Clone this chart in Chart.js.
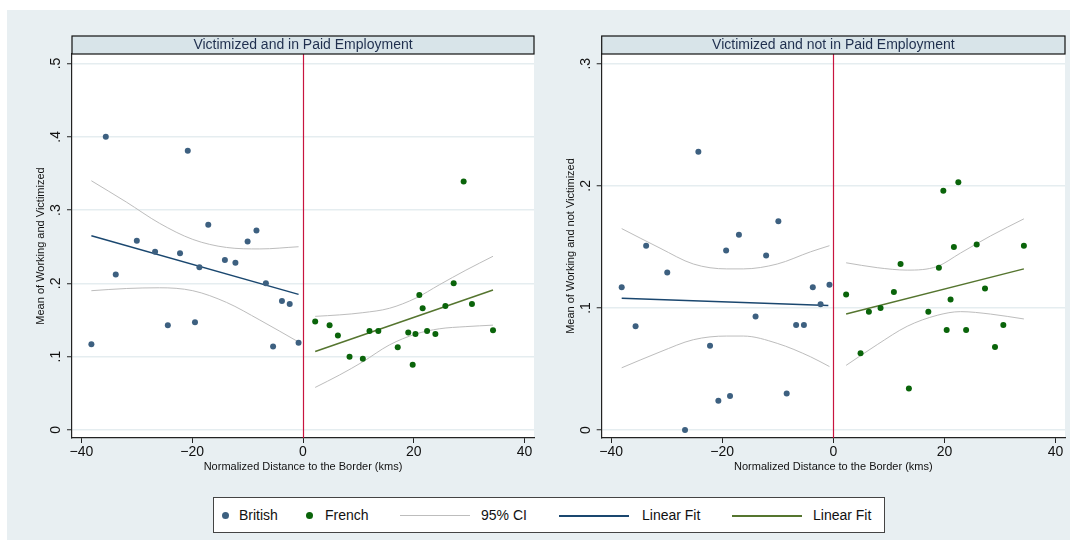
<!DOCTYPE html>
<html><head><meta charset="utf-8">
<script src="https://cdn.jsdelivr.net/npm/chart.js@4/dist/chart.umd.min.js"></script>
<style>
html,body{margin:0;padding:0;background:#fff;}
#bg{position:absolute;left:7px;top:10px;width:1063px;height:530px;background:#E8EFF2;}
canvas{position:absolute;top:0;}
#c1{left:0;} #c2{left:530px;}
#legend{position:absolute;left:213px;top:497px;width:672px;height:36px;background:#fff;border:1px solid #444;box-sizing:border-box;font-family:'Liberation Sans',Arial,sans-serif;font-size:14px;color:#111;}
#legend .it{position:absolute;top:0;line-height:34px;white-space:nowrap;}
#legend .dot{position:absolute;top:14px;width:7px;height:7px;border-radius:50%;}
#legend .ln{position:absolute;top:17px;height:0;}
</style></head>
<body>
<div id="bg"></div>
<canvas id="c1" width="540" height="480"></canvas>
<canvas id="c2" width="540" height="480"></canvas>
<div id="legend">
  <div class="dot" style="left:8px;background:#3D6080"></div><div class="it" style="left:25px">British</div>
  <div class="dot" style="left:92px;background:#0A640A"></div><div class="it" style="left:111px">French</div>
  <div class="ln" style="left:186px;width:70px;border-top:1px solid #BDBDBD"></div><div class="it" style="left:267px">95% CI</div>
  <div class="ln" style="left:345px;width:70px;border-top:2px solid #1A476F"></div><div class="it" style="left:428px">Linear Fit</div>
  <div class="ln" style="left:518px;width:70px;border-top:2px solid #55752F"></div><div class="it" style="left:599px">Linear Fit</div>
</div>
<script>
// ---- tick definitions ----
const X_TICKS = [-40, -20, 0, 20, 40];
const X_TICK_LABELS = ['\u221240', '\u221220', '0', '20', '40'];
const L_Y_TICKS = [0, 0.1, 0.2, 0.3, 0.4, 0.5];
const L_Y_TICK_LABELS = ['0', '.1', '.2', '.3', '.4', '.5'];
const R_Y_TICKS = [0, 0.1, 0.2, 0.3];
const R_Y_TICK_LABELS = ['0', '.1', '.2', '.3'];
const BORDER_X = 0;

// ---- left panel: Victimized and in Paid Employment ----
const L_BR_X = [-38.2,-35.6,-33.8,-30.0,-26.7,-24.4,-22.2,-20.8,-19.5,-18.7,-17.1,-14.1,-12.2,-10.0,-8.4,-6.7,-5.4,-3.8,-2.4,-0.8];
const L_BR_Y = [0.117,0.400,0.212,0.258,0.243,0.143,0.241,0.381,0.147,0.222,0.280,0.232,0.228,0.257,0.272,0.200,0.114,0.176,0.172,0.119];
const L_FR_X = [2.2,4.8,6.3,8.4,10.8,12.0,13.6,17.1,19.0,19.8,20.3,21.0,21.6,22.4,23.9,25.7,27.2,29.0,30.5,34.3];
const L_FR_Y = [0.148,0.143,0.129,0.100,0.097,0.135,0.135,0.113,0.133,0.089,0.131,0.184,0.166,0.135,0.131,0.169,0.200,0.339,0.172,0.136];
const L_BR_FIT_X = [-38.2, -0.8];
const L_BR_FIT_Y = [0.265, 0.185];
const L_FR_FIT_X = [2.2, 34.3];
const L_FR_FIT_Y = [0.107, 0.191];
const L_BR_CI_X = [-38.2,-31.9,-25.9,-19.9,-13.8,-7.8,-0.8];
const L_BR_CI_HI = [0.340,0.311,0.282,0.260,0.249,0.247,0.250];
const L_BR_CI_LO = [0.190,0.193,0.194,0.190,0.174,0.150,0.120];
const L_FR_CI_X = [2.2,6.6,10.8,15.6,20.4,24.6,29.4,34.3];
const L_FR_CI_HI = [0.155,0.157,0.160,0.166,0.180,0.198,0.218,0.237];
const L_FR_CI_LO = [0.058,0.075,0.093,0.116,0.131,0.138,0.141,0.143];

// ---- right panel: Victimized and not in Paid Employment ----
const R_BR_X = [-38.1,-35.6,-33.7,-29.9,-26.7,-24.3,-22.2,-20.7,-19.3,-18.6,-17.0,-14.0,-12.1,-9.9,-8.4,-6.7,-5.3,-3.7,-2.3,-0.7];
const R_BR_Y = [0.117,0.085,0.151,0.129,0.000,0.228,0.069,0.024,0.147,0.028,0.160,0.093,0.143,0.171,0.030,0.086,0.086,0.117,0.103,0.119];
const R_FR_X = [2.3,4.9,6.4,8.5,10.9,12.1,13.6,17.1,19.0,19.8,20.4,21.1,21.7,22.5,23.9,25.8,27.3,29.1,30.6,34.3];
const R_FR_Y = [0.111,0.063,0.097,0.100,0.113,0.136,0.034,0.097,0.133,0.196,0.082,0.107,0.150,0.203,0.082,0.152,0.116,0.068,0.086,0.151];
const R_BR_FIT_X = [-38.1, -0.9];
const R_BR_FIT_Y = [0.108, 0.102];
const R_FR_FIT_X = [2.3, 34.3];
const R_FR_FIT_Y = [0.095, 0.132];
const R_BR_CI_X = [-38.1,-31.2,-25.2,-19.2,-16.2,-10.1,-4.1,-0.7];
const R_BR_CI_HI = [0.165,0.149,0.136,0.132,0.132,0.136,0.146,0.151];
const R_BR_CI_LO = [0.051,0.064,0.074,0.077,0.077,0.071,0.060,0.052];
const R_FR_CI_X = [2.3,7.9,13.3,18.7,22.9,28.3,34.3];
const R_FR_CI_HI = [0.137,0.133,0.131,0.134,0.145,0.159,0.173];
const R_FR_CI_LO = [0.053,0.070,0.085,0.094,0.097,0.095,0.091];

const FONT = "'Liberation Sans', Arial, Helvetica, sans-serif";
const C_BR = '#3D6080', C_FR = '#0A640A', C_BRFIT = '#1A476F', C_FRFIT = '#55752F', C_CI = '#BDBDBD';

const pts = (xs, ys) => xs.map((x, i) => ({x: x, y: ys[i]}));

function ciLine(xs, ys) {
  return {type: 'line', data: pts(xs, ys), borderColor: C_CI, borderWidth: 1, pointRadius: 0,
          cubicInterpolationMode: 'monotone', fill: false, order: 3};
}
function fitLine(xs, ys, c) {
  return {type: 'line', data: pts(xs, ys), borderColor: c, borderWidth: 1.5, pointRadius: 0, fill: false, order: 2};
}
function scat(xs, ys, c) {
  return {type: 'scatter', data: pts(xs, ys), backgroundColor: c, borderWidth: 0, pointRadius: 3, pointHoverRadius: 3, order: 1};
}

const decor = {
  id: 'decor',
  beforeDraw(chart, args, o) {
    const {ctx, chartArea: a} = chart;
    ctx.save(); ctx.fillStyle = '#fff';
    ctx.fillRect(a.left, a.top, a.right - a.left, a.bottom - a.top);
    ctx.restore();
  },
  beforeDatasetsDraw(chart) {
    const {ctx, chartArea: a, scales} = chart;
    const px = Math.round(scales.x.getPixelForValue(BORDER_X)) + 0.5;
    ctx.save(); ctx.strokeStyle = '#C8143F'; ctx.lineWidth = 1.2;
    ctx.beginPath(); ctx.moveTo(px, a.top); ctx.lineTo(px, a.bottom); ctx.stroke();
    ctx.restore();
  },
  afterDraw(chart, args, o) {
    const {ctx, chartArea: a, scales} = chart;
    // strip title
    ctx.save();
    ctx.fillStyle = '#D8E4E9';
    ctx.fillRect(a.left, a.top - 18, a.right - a.left, 18);
    ctx.strokeStyle = '#111'; ctx.lineWidth = 1.2;
    ctx.strokeRect(a.left, a.top - 18, a.right - a.left, 18);
    ctx.fillStyle = '#1F2F4E'; ctx.font = '14px ' + FONT;
    ctx.textAlign = 'center'; ctx.textBaseline = 'middle';
    ctx.fillText(o.title, (a.left + a.right) / 2, a.top - 8.5);
    // rotated y tick labels
    const ys = scales.y;
    ctx.fillStyle = '#111'; ctx.font = '14px ' + FONT;
    ys.ticks.forEach((t, i) => {
      const py = ys.getPixelForValue(t.value);
      ctx.save(); ctx.translate(a.left - 16, py); ctx.rotate(-Math.PI / 2);
      ctx.textAlign = 'center'; ctx.textBaseline = 'middle';
      ctx.fillText(o.yLabels[i], 0, 0);
      ctx.restore();
    });
    ctx.restore();
  }
};

function makeChart(id, title, yTitle, yTicks, yLabels, yMin, yMax, yAxisW, padRight, datasets) {
  return new Chart(document.getElementById(id), {
    data: {datasets: datasets},
    plugins: [decor],
    options: {
      responsive: false, animation: false, events: [],
      layout: {padding: {top: 54, right: padRight, left: 0, bottom: 0}},
      plugins: {legend: {display: false}, tooltip: {enabled: false},
                decor: {title: title, yLabels: yLabels}},
      scales: {
        x: {type: 'linear', min: -41.7, max: 41.7,
            afterBuildTicks: s => { s.ticks = X_TICKS.map(v => ({value: v})); },
            afterFit: s => { s.height = 42; },
            grid: {drawOnChartArea: false, drawTicks: true, tickLength: 5, tickColor: '#222', tickWidth: 1},
            border: {display: true, color: '#222', width: 1.2},
            ticks: {padding: 1, color: '#111', font: {family: FONT, size: 14}, maxRotation: 0,
                    callback: (v, i) => X_TICK_LABELS[i]},
            title: {display: true, text: 'Normalized Distance to the Border (kms)', color: '#111',
                    font: {family: FONT, size: 11}, padding: {top: 0, bottom: 6.4}}},
        y: {type: 'linear', min: yMin, max: yMax,
            afterBuildTicks: s => { s.ticks = yTicks.map(v => ({value: v})); },
            afterFit: s => { s.width = yAxisW; },
            grid: {color: '#E5EDF0', lineWidth: 1.5, drawTicks: true, tickLength: 5, tickColor: '#222', tickWidth: 1},
            border: {display: true, color: '#222', width: 1.2},
            ticks: {display: false},
            title: {display: true, text: yTitle, color: '#111',
                    font: {family: FONT, size: 11}, padding: {top: 34.5, bottom: 0}}}
      }
    }
  });
}

makeChart('c1', 'Victimized and in Paid Employment', 'Mean of Working and Victimized',
  L_Y_TICKS, L_Y_TICK_LABELS, -0.011, 0.513, 72, 6, [
    ciLine(L_BR_CI_X, L_BR_CI_HI), ciLine(L_BR_CI_X, L_BR_CI_LO),
    ciLine(L_FR_CI_X, L_FR_CI_HI), ciLine(L_FR_CI_X, L_FR_CI_LO),
    fitLine(L_BR_FIT_X, L_BR_FIT_Y, C_BRFIT), fitLine(L_FR_FIT_X, L_FR_FIT_Y, C_FRFIT),
    scat(L_BR_X, L_BR_Y, C_BR), scat(L_FR_X, L_FR_Y, C_FR)
  ]);

makeChart('c2', 'Victimized and not in Paid Employment', 'Mean of Working and not Victimized',
  R_Y_TICKS, R_Y_TICK_LABELS, -0.0065, 0.308, 71.7, 5, [
    ciLine(R_BR_CI_X, R_BR_CI_HI), ciLine(R_BR_CI_X, R_BR_CI_LO),
    ciLine(R_FR_CI_X, R_FR_CI_HI), ciLine(R_FR_CI_X, R_FR_CI_LO),
    fitLine(R_BR_FIT_X, R_BR_FIT_Y, C_BRFIT), fitLine(R_FR_FIT_X, R_FR_FIT_Y, C_FRFIT),
    scat(R_BR_X, R_BR_Y, C_BR), scat(R_FR_X, R_FR_Y, C_FR)
  ]);
</script>
</body></html>
